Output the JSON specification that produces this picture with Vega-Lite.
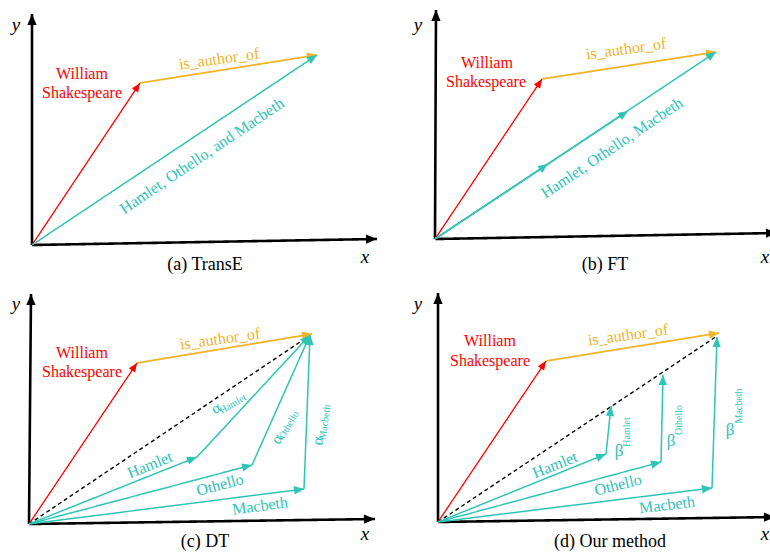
{
  "$schema": "https://vega.github.io/schema/vega-lite/v6.json",
  "background": "white",
  "padding": 0,
  "bounds": "flush",
  "config": {"view": {"stroke": null}, "text": {"font": "Liberation Serif"}, "header": {"labels": false, "title": null, "labelFontSize": 0, "labelPadding": 0}},
  "data": {"values": [
    {"panel": "a", "type": "vec", "kind": "axis", "x": 32, "y": 32, "x2": 32, "y2": 263},
    {"panel": "a", "type": "vec", "kind": "axis", "x": 32, "y": 32, "x2": 377, "y2": 38},
    {"panel": "a", "type": "vec", "kind": "entity", "x": 32, "y": 32, "x2": 140, "y2": 194},
    {"panel": "a", "type": "vec", "kind": "relation", "x": 140, "y": 194, "x2": 317, "y2": 222},
    {"panel": "a", "type": "vec", "kind": "tail", "x": 32, "y": 32, "x2": 317, "y2": 222},

    {"panel": "b", "type": "vec", "kind": "axis", "x": 50, "y": 38, "x2": 51, "y2": 267},
    {"panel": "b", "type": "vec", "kind": "axis", "x": 50, "y": 38, "x2": 392, "y2": 44},
    {"panel": "b", "type": "vec", "kind": "entity", "x": 50, "y": 38, "x2": 157, "y2": 198},
    {"panel": "b", "type": "vec", "kind": "relation", "x": 157, "y": 198, "x2": 331, "y2": 225},
    {"panel": "b", "type": "vec", "kind": "tail", "x": 50, "y": 38, "x2": 163, "y2": 113},
    {"panel": "b", "type": "vec", "kind": "tail", "x": 50, "y": 38, "x2": 243, "y2": 166},
    {"panel": "b", "type": "vec", "kind": "tail", "x": 50, "y": 38, "x2": 331, "y2": 225},

    {"panel": "c", "type": "vec", "kind": "axis", "x": 29, "y": 30, "x2": 31, "y2": 260},
    {"panel": "c", "type": "vec", "kind": "axis", "x": 29, "y": 30, "x2": 375, "y2": 35},
    {"panel": "c", "type": "vec", "kind": "entity", "x": 29, "y": 30, "x2": 137, "y2": 191},
    {"panel": "c", "type": "vec", "kind": "relation", "x": 137, "y": 191, "x2": 312, "y2": 220},
    {"panel": "c", "type": "vec", "kind": "sum", "x": 29, "y": 30, "x2": 306, "y2": 216},
    {"panel": "c", "type": "vec", "kind": "tail", "x": 29, "y": 30, "x2": 197, "y2": 97},
    {"panel": "c", "type": "vec", "kind": "tail", "x": 29, "y": 30, "x2": 252, "y2": 89},
    {"panel": "c", "type": "vec", "kind": "tail", "x": 29, "y": 30, "x2": 304, "y2": 65},
    {"panel": "c", "type": "vec", "kind": "weight", "x": 197, "y": 97, "x2": 310, "y2": 219},
    {"panel": "c", "type": "vec", "kind": "weight", "x": 252, "y": 89, "x2": 310, "y2": 219},
    {"panel": "c", "type": "vec", "kind": "weight", "x": 304, "y": 65, "x2": 310, "y2": 219},

    {"panel": "d", "type": "vec", "kind": "axis", "x": 53, "y": 32, "x2": 53, "y2": 261},
    {"panel": "d", "type": "vec", "kind": "axis", "x": 53, "y": 32, "x2": 390, "y2": 37},
    {"panel": "d", "type": "vec", "kind": "entity", "x": 53, "y": 32, "x2": 161, "y2": 193},
    {"panel": "d", "type": "vec", "kind": "relation", "x": 161, "y": 193, "x2": 334, "y2": 221},
    {"panel": "d", "type": "vec", "kind": "sum", "x": 53, "y": 32, "x2": 332, "y2": 218},
    {"panel": "d", "type": "vec", "kind": "tail", "x": 53, "y": 32, "x2": 221, "y2": 100},
    {"panel": "d", "type": "vec", "kind": "tail", "x": 53, "y": 32, "x2": 276, "y2": 92},
    {"panel": "d", "type": "vec", "kind": "tail", "x": 53, "y": 32, "x2": 327, "y2": 66},
    {"panel": "d", "type": "vec", "kind": "weight", "x": 221, "y": 100, "x2": 226, "y2": 148},
    {"panel": "d", "type": "vec", "kind": "weight", "x": 276, "y": 92, "x2": 278, "y2": 179},
    {"panel": "d", "type": "vec", "kind": "weight", "x": 327, "y": 66, "x2": 332, "y2": 217},

    {"panel": "a", "type": "lab", "kind": "entity", "role": "label", "x": 82, "y": 203, "angle": 0, "text": "William"},
    {"panel": "a", "type": "lab", "kind": "entity", "role": "label", "x": 82, "y": 184, "angle": 0, "text": "Shakespeare"},
    {"panel": "a", "type": "lab", "kind": "relation", "role": "label", "x": 219, "y": 218, "angle": -8, "text": "is_author_of"},
    {"panel": "a", "type": "lab", "kind": "tail", "role": "label", "x": 202, "y": 121, "angle": -34, "text": "Hamlet, Othello, and Macbeth"},
    {"panel": "a", "type": "lab", "kind": "axis", "role": "axis", "x": 365, "y": 20, "angle": 0, "text": "x"},
    {"panel": "a", "type": "lab", "kind": "axis", "role": "axis", "x": 16, "y": 252, "angle": 0, "text": "y"},
    {"panel": "a", "type": "lab", "kind": "caption", "role": "caption", "x": 205, "y": 12, "angle": 0, "text": "(a) TransE"},

    {"panel": "b", "type": "lab", "kind": "entity", "role": "label", "x": 102, "y": 214, "angle": 0, "text": "William"},
    {"panel": "b", "type": "lab", "kind": "entity", "role": "label", "x": 101, "y": 195, "angle": 0, "text": "Shakespeare"},
    {"panel": "b", "type": "lab", "kind": "relation", "role": "label", "x": 241, "y": 228, "angle": -8, "text": "is_author_of"},
    {"panel": "b", "type": "lab", "kind": "tail", "role": "label", "x": 227, "y": 129, "angle": -34, "text": "Hamlet, Othello, Macbeth"},
    {"panel": "b", "type": "lab", "kind": "axis", "role": "axis", "x": 380, "y": 20, "angle": 0, "text": "x"},
    {"panel": "b", "type": "lab", "kind": "axis", "role": "axis", "x": 33, "y": 252, "angle": 0, "text": "y"},
    {"panel": "b", "type": "lab", "kind": "caption", "role": "caption", "x": 220, "y": 12, "angle": 0, "text": "(b) FT"},

    {"panel": "c", "type": "lab", "kind": "entity", "role": "label", "x": 82, "y": 201, "angle": 0, "text": "William"},
    {"panel": "c", "type": "lab", "kind": "entity", "role": "label", "x": 82, "y": 182, "angle": 0, "text": "Shakespeare"},
    {"panel": "c", "type": "lab", "kind": "relation", "role": "label", "x": 220, "y": 215, "angle": -8, "text": "is_author_of"},
    {"panel": "c", "type": "lab", "kind": "tail", "role": "label", "x": 150, "y": 89, "angle": -22, "text": "Hamlet"},
    {"panel": "c", "type": "lab", "kind": "tail", "role": "label", "x": 220, "y": 69, "angle": -15, "text": "Othello"},
    {"panel": "c", "type": "lab", "kind": "tail", "role": "label", "x": 260, "y": 48, "angle": -8, "text": "Macbeth"},
    {"panel": "c", "type": "lab", "kind": "weight", "role": "greek", "x": 216, "y": 146, "angle": -30, "text": "α"},
    {"panel": "c", "type": "lab", "kind": "weight", "role": "sub", "x": 233, "y": 150, "angle": -30, "text": "Hamlet"},
    {"panel": "c", "type": "lab", "kind": "weight", "role": "greek", "x": 277, "y": 115, "angle": -60, "text": "α"},
    {"panel": "c", "type": "lab", "kind": "weight", "role": "sub", "x": 289, "y": 129, "angle": -60, "text": "Othello"},
    {"panel": "c", "type": "lab", "kind": "weight", "role": "greek", "x": 318, "y": 113, "angle": -82, "text": "α"},
    {"panel": "c", "type": "lab", "kind": "weight", "role": "sub", "x": 325, "y": 132, "angle": -82, "text": "Macbeth"},
    {"panel": "c", "type": "lab", "kind": "axis", "role": "axis", "x": 365, "y": 20, "angle": 0, "text": "x"},
    {"panel": "c", "type": "lab", "kind": "axis", "role": "axis", "x": 16, "y": 250, "angle": 0, "text": "y"},
    {"panel": "c", "type": "lab", "kind": "caption", "role": "caption", "x": 205, "y": 12, "angle": 0, "text": "(c) DT"},

    {"panel": "d", "type": "lab", "kind": "entity", "role": "label", "x": 105, "y": 213, "angle": 0, "text": "William"},
    {"panel": "d", "type": "lab", "kind": "entity", "role": "label", "x": 105, "y": 193, "angle": 0, "text": "Shakespeare"},
    {"panel": "d", "type": "lab", "kind": "relation", "role": "label", "x": 243, "y": 219, "angle": -8, "text": "is_author_of"},
    {"panel": "d", "type": "lab", "kind": "tail", "role": "label", "x": 170, "y": 89, "angle": -22, "text": "Hamlet"},
    {"panel": "d", "type": "lab", "kind": "tail", "role": "label", "x": 233, "y": 69, "angle": -14, "text": "Othello"},
    {"panel": "d", "type": "lab", "kind": "tail", "role": "label", "x": 282, "y": 49, "angle": -7, "text": "Macbeth"},
    {"panel": "d", "type": "lab", "kind": "weight", "role": "beta", "x": 234, "y": 103, "angle": 0, "text": "β"},
    {"panel": "d", "type": "lab", "kind": "weight", "role": "sub", "x": 242, "y": 122, "angle": -90, "text": "Hamlet"},
    {"panel": "d", "type": "lab", "kind": "weight", "role": "beta", "x": 286, "y": 113, "angle": 0, "text": "β"},
    {"panel": "d", "type": "lab", "kind": "weight", "role": "sub", "x": 294, "y": 134, "angle": -90, "text": "Othello"},
    {"panel": "d", "type": "lab", "kind": "weight", "role": "beta", "x": 345, "y": 124, "angle": 0, "text": "β"},
    {"panel": "d", "type": "lab", "kind": "weight", "role": "sub", "x": 354, "y": 148, "angle": -90, "text": "Macbeth"},
    {"panel": "d", "type": "lab", "kind": "axis", "role": "axis", "x": 380, "y": 20, "angle": 0, "text": "x"},
    {"panel": "d", "type": "lab", "kind": "axis", "role": "axis", "x": 33, "y": 250, "angle": 0, "text": "y"},
    {"panel": "d", "type": "lab", "kind": "caption", "role": "caption", "x": 225, "y": 12, "angle": 0, "text": "(d) Our method"}
  ]},
  "facet": {"field": "panel", "type": "nominal", "title": null, "header": {"labels": false, "title": null, "labelFontSize": 0, "labelPadding": 0}},
  "columns": 2,
  "spacing": 0,
  "spec": {
    "width": 385,
    "height": 277,
    "resolve": {"scale": {"size": "independent"}},
    "layer": [
      {
        "transform": [{"filter": "datum.type === 'vec'"}],
        "mark": {"type": "rule"},
        "encoding": {
          "x": {"field": "x", "type": "quantitative", "scale": {"domain": [0, 385], "nice": false, "zero": false}, "axis": null},
          "y": {"field": "y", "type": "quantitative", "scale": {"domain": [0, 277], "nice": false, "zero": false}, "axis": null},
          "x2": {"field": "x2"},
          "y2": {"field": "y2"},
          "color": {"field": "kind", "type": "nominal", "legend": null,
            "scale": {"domain": ["axis", "entity", "relation", "tail", "weight", "sum", "caption"],
                      "range": ["#000000", "#FF0000", "#F0B429", "#2EC4B6", "#2EC4B6", "#000000", "#000000"]}},
          "strokeWidth": {"field": "kind", "type": "nominal", "legend": null,
            "scale": {"type": "ordinal", "domain": ["axis", "entity", "relation", "tail", "weight", "sum"], "range": [2.6, 1.3, 1.8, 1.5, 1.5, 1.4]}},
          "strokeDash": {"field": "kind", "type": "nominal", "legend": null,
            "scale": {"domain": ["axis", "entity", "relation", "tail", "weight", "sum"], "range": [[1, 0], [1, 0], [1, 0], [1, 0], [1, 0], [4, 3]]}}
        }
      },
      {
        "transform": [
          {"filter": "datum.type === 'vec' && datum.kind !== 'sum'"},
          {"calculate": "atan2(datum.x2 - datum.x, datum.y2 - datum.y) * 180 / PI", "as": "heading"}
        ],
        "mark": {"type": "point", "shape": "M0,0L0.42,1L-0.42,1Z", "filled": true, "opacity": 1, "strokeWidth": 0},
        "encoding": {
          "x": {"field": "x2", "type": "quantitative"},
          "y": {"field": "y2", "type": "quantitative"},
          "angle": {"field": "heading", "type": "quantitative", "scale": null},
          "color": {"field": "kind", "type": "nominal", "legend": null},
          "size": {"field": "kind", "type": "nominal", "legend": null,
            "scale": {"type": "ordinal", "domain": ["axis", "entity", "relation", "tail", "weight"], "range": [484, 324, 400, 400, 400]}}
        }
      },
      {
        "transform": [{"filter": "datum.type === 'lab' && datum.role !== 'axis'"}],
        "mark": {"type": "text", "align": "center", "baseline": "middle", "font": "Liberation Serif"},
        "encoding": {
          "x": {"field": "x", "type": "quantitative"},
          "y": {"field": "y", "type": "quantitative"},
          "text": {"field": "text", "type": "nominal"},
          "angle": {"field": "angle", "type": "quantitative", "scale": null},
          "color": {"field": "kind", "type": "nominal", "legend": null},
          "size": {"field": "role", "type": "nominal", "legend": null,
            "scale": {"type": "ordinal", "domain": ["label", "greek", "beta", "sub", "caption"], "range": [16, 16, 17, 10, 18]}}
        }
      },
      {
        "transform": [{"filter": "datum.role === 'axis'"}],
        "mark": {"type": "text", "align": "center", "baseline": "middle", "font": "Liberation Serif", "fontStyle": "italic", "fontSize": 19, "color": "#000000"},
        "encoding": {
          "x": {"field": "x", "type": "quantitative"},
          "y": {"field": "y", "type": "quantitative"},
          "text": {"field": "text", "type": "nominal"}
        }
      }
    ]
  }
}
